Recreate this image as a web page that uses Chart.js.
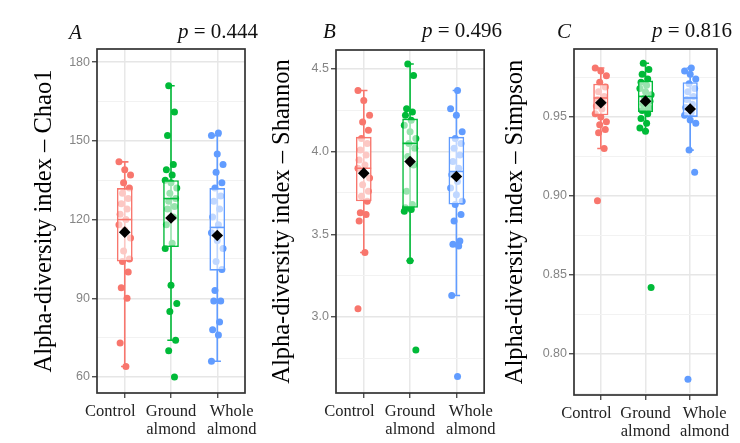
<!DOCTYPE html>
<html><head><meta charset="utf-8">
<script src="https://cdn.jsdelivr.net/npm/chart.js@4.4.0/dist/chart.umd.min.js"></script>
<style>
html,body{margin:0;padding:0;background:#fff;}
#wrap{position:relative;width:740px;height:443px;overflow:hidden;background:#fff;}
canvas{position:absolute;top:0;}
.lab{position:absolute;font-family:"Liberation Serif",serif;font-size:21px;line-height:21px;color:#111;white-space:nowrap;}
</style></head><body>
<div id="wrap">
<canvas id="cA" width="264" height="443" style="left:0px;width:264px;height:443px"></canvas>
<canvas id="cB" width="252" height="443" style="left:250px;width:252px;height:443px"></canvas>
<canvas id="cC" width="245" height="443" style="left:495px;width:245px;height:443px"></canvas>
<div class="lab" style="left:69px;top:22px"><i>A</i></div>
<div class="lab" style="right:482px;top:21px"><i>p</i> = 0.444</div>
<div class="lab" style="left:323px;top:21px"><i>B</i></div>
<div class="lab" style="right:238px;top:20px"><i>p</i> = 0.496</div>
<div class="lab" style="left:557px;top:21px"><i>C</i></div>
<div class="lab" style="right:8px;top:20px"><i>p</i> = 0.816</div>
</div>
<script>
// ---------- categories & colours ----------
// (spaces reproduce the outward spread of the outer labels in the original)
const categories = [["Control       "], ["Ground", "almond"], ["       Whole", "       almond"]];
const groupColors = ["#F8766D", "#00BA38", "#619CFF"];

// ---------- Panel A : Chao1 ----------
const chao1Control = [142, 139, 137, 134, 132, 130, 128, 126, 124, 122, 120, 118, 116, 113, 108, 105, 104, 100, 94, 90, 73, 64];
const chao1Ground  = [171, 161, 152, 141, 139, 137, 135, 134, 132, 130, 128, 127, 125, 124, 121, 118, 111, 109, 95, 88, 85, 74, 70, 60];
const chao1Whole   = [153, 152, 145, 141, 138, 134, 132, 129, 127, 124, 121, 118, 115, 112, 109, 104, 101, 93, 89, 89, 81, 78, 76, 66];
// [min, q1, median, q3, max]
const chao1Box   = [[64, 104, 120, 132, 142], [74, 109.5, 128, 135, 171], [66, 100.5, 117, 132, 152]];
const chao1Means = [115.2, 120.6, 113.9];
const chao1Ticks = [60, 90, 120, 150, 180];
const chao1Minor = [75, 105, 135, 165];

// ---------- Panel B : Shannon ----------
const shannonControl = [4.37, 4.31, 4.22, 4.18, 4.13, 4.08, 4.05, 4.01, 3.98, 3.95, 3.92, 3.90, 3.87, 3.84, 3.80, 3.76, 3.73, 3.70, 3.63, 3.62, 3.58, 3.39, 3.05];
const shannonGround  = [4.53, 4.46, 4.26, 4.24, 4.22, 4.19, 4.16, 4.12, 4.08, 4.05, 4.02, 3.97, 3.92, 3.76, 3.68, 3.66, 3.65, 3.64, 3.34, 2.80];
const shannonWhole   = [4.37, 4.26, 4.22, 4.12, 4.08, 4.05, 4.02, 3.98, 3.94, 3.90, 3.86, 3.82, 3.78, 3.74, 3.70, 3.68, 3.62, 3.58, 3.46, 3.44, 3.43, 3.13, 2.64];
const shannonBox   = [[3.39, 3.70, 3.90, 4.09, 4.37], [3.34, 3.66, 4.05, 4.20, 4.53], [3.13, 3.68, 3.88, 4.09, 4.37]];
const shannonMeans = [3.87, 3.94, 3.85];
const shannonTicks = [3.0, 3.5, 4.0, 4.5];
const shannonMinor = [2.75, 3.25, 3.75, 4.25];

// ---------- Panel C : Simpson ----------
const simpsonControl = [0.981, 0.979, 0.976, 0.972, 0.969, 0.966, 0.963, 0.961, 0.959, 0.957, 0.955, 0.952, 0.950, 0.947, 0.945, 0.942, 0.940, 0.930, 0.897];
const simpsonGround  = [0.984, 0.980, 0.977, 0.974, 0.972, 0.970, 0.968, 0.966, 0.964, 0.962, 0.960, 0.958, 0.956, 0.954, 0.952, 0.949, 0.946, 0.943, 0.941, 0.842];
const simpsonWhole   = [0.981, 0.979, 0.977, 0.974, 0.971, 0.968, 0.966, 0.963, 0.961, 0.958, 0.956, 0.953, 0.951, 0.948, 0.946, 0.929, 0.915, 0.784];
const simpsonBox   = [[0.930, 0.951, 0.962, 0.971, 0.981], [0.941, 0.953, 0.963, 0.973, 0.984], [0.929, 0.950, 0.962, 0.972, 0.981]];
const simpsonMeans = [0.959, 0.960, 0.955];
const simpsonTicks = [0.80, 0.85, 0.90, 0.95];
const simpsonMinor = [0.775, 0.825, 0.875, 0.925, 0.975];

// deterministic horizontal jitter (category units)
function jitter(i, g) { return (((i * 5 + g * 3) % 11) - 5) * 0.025; }

const framePlugin = {
  id: 'frame',
  afterDraw(chart) {
    const {ctx, chartArea: a} = chart;
    ctx.save();
    ctx.strokeStyle = '#333';
    ctx.lineWidth = 1.7;
    ctx.strokeRect(a.left, a.top, a.right - a.left, a.bottom - a.top);
    ctx.restore();
  }
};

function makePanel(id, p) {
  const datasets = [];
  p.points.forEach((vals, g) => {
    datasets.push({
      type: 'scatter', order: 4,
      data: vals.map((v, i) => ({x: g + 1 + jitter(i, g), y: v})),
      pointRadius: 3.5, pointHoverRadius: 3.5,
      backgroundColor: groupColors[g], borderWidth: 0
    });
  });
  p.box.forEach((b, g) => {
    const x = g + 1, c = 0.08;
    datasets.push({
      type: 'scatter', order: 3, showLine: true, spanGaps: false,
      pointRadius: 0, borderColor: groupColors[g], borderWidth: 1.6,
      data: [{x: x - c, y: b[4]}, {x: x + c, y: b[4]}, {x: x, y: null},
             {x: x, y: b[4]}, {x: x, y: b[0]}, {x: x, y: null},
             {x: x - c, y: b[0]}, {x: x + c, y: b[0]}]
    });
  });
  datasets.push({
    type: 'bar', order: 2,
    data: p.box.map((b, g) => ({x: g + 1, y: [b[1], b[3]]})),
    backgroundColor: 'rgba(255,255,255,0.6)',
    borderColor: groupColors, borderWidth: 1.6, borderSkipped: false,
    barPercentage: 0.34, categoryPercentage: 1
  });
  p.box.forEach((b, g) => {
    const x = g + 1, h = 0.16;
    datasets.push({
      type: 'scatter', order: 1, showLine: true, pointRadius: 0,
      borderColor: groupColors[g], borderWidth: 1.6,
      data: [{x: x - h, y: b[2]}, {x: x + h, y: b[2]}]
    });
  });
  datasets.push({
    type: 'scatter', order: 0,
    data: p.means.map((m, g) => ({x: g + 1, y: m})),
    pointStyle: 'rectRot', pointRadius: 5.8, pointHoverRadius: 5.8,
    backgroundColor: '#000', borderWidth: 0
  });

  const allY = p.ticks.concat(p.minor).sort((a, b) => a - b);
  const isMajor = v => p.ticks.some(t => Math.abs(t - v) < 1e-9);

  new Chart(document.getElementById(id), {
    type: 'scatter',
    data: {datasets},
    plugins: [framePlugin],
    options: {
      responsive: false, animation: false, events: [],
      layout: {autoPadding: false, padding: {left: 0, right: p.padRight, top: p.padTop, bottom: 0}},
      plugins: {legend: {display: false}, tooltip: {enabled: false}},
      scales: {
        x: {
          type: 'linear', min: 0.4, max: 3.6, offset: false,
          afterBuildTicks: s => { s.ticks = [1, 2, 3].map(v => ({value: v})); },
          afterFit: s => { s.height = p.xHeight; },
          ticks: {
            callback: v => categories[Math.round(v) - 1],
            font: {family: 'Liberation Serif', size: 16.5, lineHeight: 1.12},
            color: '#222', padding: 4, maxRotation: 0, autoSkip: false
          },
          grid: {offset: false, color: '#e8e8e8', lineWidth: 1.5, tickColor: '#333', tickLength: 5, tickWidth: 1.2},
          border: {display: false}
        },
        y: {
          type: 'linear', min: p.ymin, max: p.ymax,
          afterBuildTicks: s => { s.ticks = allY.map(v => ({value: v})); },
          afterFit: s => { s.width = p.axisWidth; },
          ticks: {
            callback: v => isMajor(v) ? v.toFixed(p.decimals) : '',
            font: {family: 'Liberation Sans', size: 12.5},
            color: '#858585', padding: 2, autoSkip: false
          },
          grid: {
            color: ctx => isMajor(ctx.tick.value) ? '#e6e6e6' : '#f2f2f2',
            lineWidth: ctx => isMajor(ctx.tick.value) ? 1.5 : 1,
            tickColor: ctx => isMajor(ctx.tick.value) ? '#333' : 'rgba(0,0,0,0)',
            tickLength: 5, tickWidth: 1.2
          },
          title: {
            display: true, text: p.title, color: '#000',
            font: {family: 'Liberation Serif', size: 24.5, lineHeight: 1},
            padding: {top: p.titlePad, bottom: 0}
          },
          border: {display: false}
        }
      }
    }
  });
}

makePanel('cA', {
  points: [chao1Control, chao1Ground, chao1Whole], box: chao1Box, means: chao1Means,
  ticks: chao1Ticks, minor: chao1Minor, ymin: 53.9, ymax: 185, decimals: 0,
  title: 'Alpha-diversity index – Chao1',
  axisWidth: 97, padRight: 19, padTop: 49, xHeight: 50, titlePad: 32.5
});
makePanel('cB', {
  points: [shannonControl, shannonGround, shannonWhole], box: shannonBox, means: shannonMeans,
  ticks: shannonTicks, minor: shannonMinor, ymin: 2.54, ymax: 4.615, decimals: 1,
  title: 'Alpha-diversity index – Shannon',
  axisWidth: 86, padRight: 13, padTop: 50, xHeight: 50, titlePad: 20.5
});
makePanel('cC', {
  points: [simpsonControl, simpsonGround, simpsonWhole], box: simpsonBox, means: simpsonMeans,
  ticks: simpsonTicks, minor: simpsonMinor, ymin: 0.774, ymax: 0.993, decimals: 2,
  title: 'Alpha-diversity index – Simpson',
  axisWidth: 79, padRight: 23, padTop: 49, xHeight: 48, titlePad: 8.5
});
</script>
</body></html>
